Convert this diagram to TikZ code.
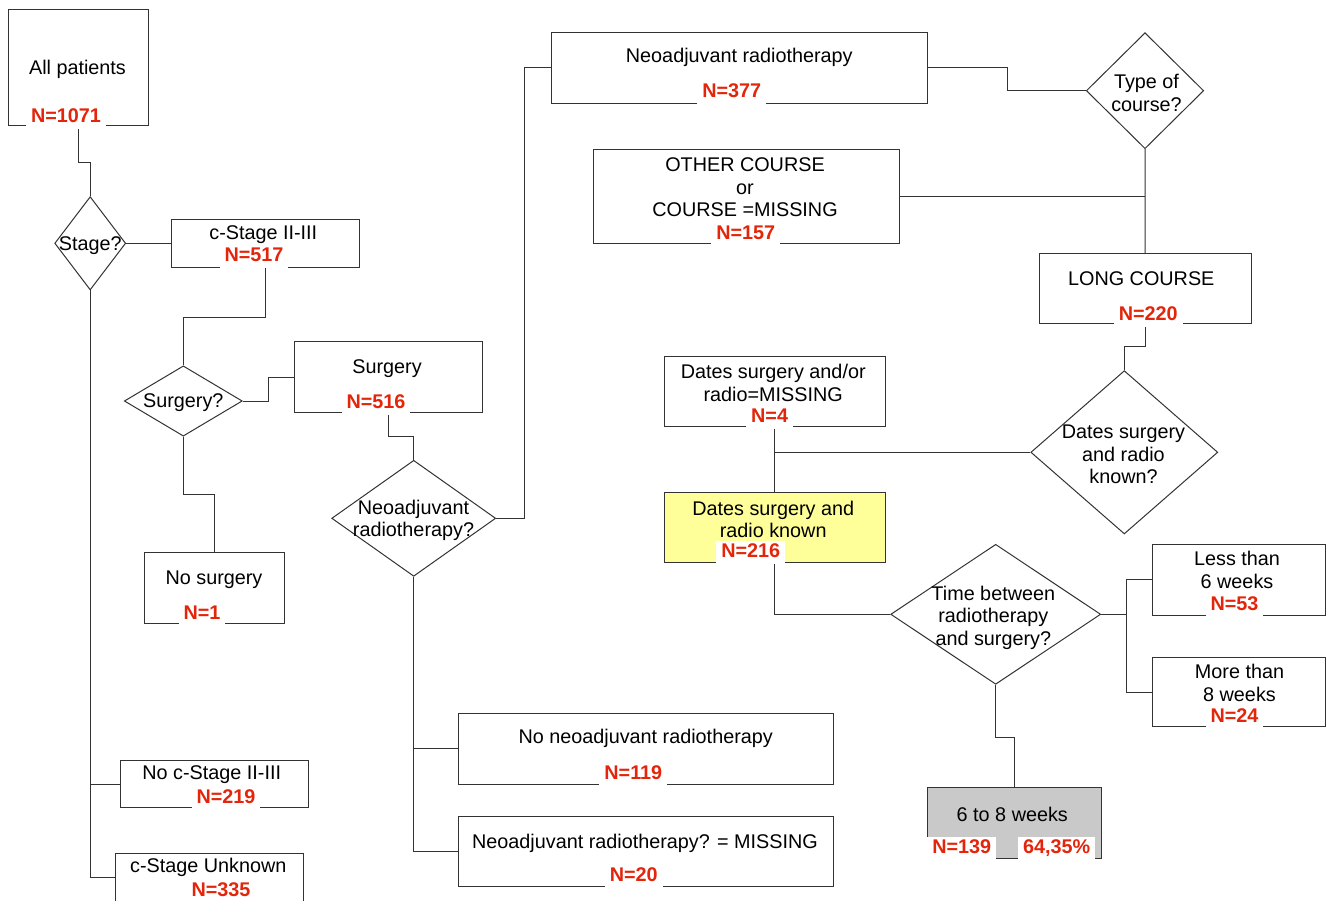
\documentclass[tikz,border=0pt]{standalone}
\usepackage{fontspec}
\setmainfont{Liberation Sans}
\usetikzlibrary{shapes.geometric,fit}
\definecolor{countred}{HTML}{E3260B}
\definecolor{keepyellow}{HTML}{FFFF99}
\definecolor{resultgray}{HTML}{C9C9C9}
\definecolor{linegray}{HTML}{333333}

\begin{document}
\begin{tikzpicture}[
      x=1pt, y=-1pt,
      line width=1pt,
      font=\fontsize{19.8}{22.5}\selectfont,
      box/.style={draw=linegray,fill=white,rectangle,inner sep=0pt},
      dec/.style={draw=linegray,fill=white,diamond,inner sep=0pt},
      txt/.style={align=center,inner sep=0pt,yshift=-2pt},
      count/.style={font=\fontsize{19.8}{22.5}\selectfont\bfseries,text=countred,fill=white,
                    inner xsep=5pt,inner ysep=2.5pt,text height=14pt,text depth=4pt,anchor=base},
      link/.style={draw=linegray}
    ]
    \useasboundingbox (0,0) rectangle (1331,900);
    % staging and surgery
    \node[box,fit={(8,9) (148,125.3)}] (all) {};
    \node[dec,minimum width=71pt,minimum height=93.3pt] (stage) at (90.2,243.3) {};
    \node[box,fit={(171,219.7) (359,267.3)}] (cst) {};
    \node[dec,minimum width=118pt,minimum height=70.3pt] (surgq) at (183.3,401) {};
    \node[box,fit={(294.3,341.7) (482,412.7)}] (surg) {};
    \node[box,fit={(144,552.7) (284.3,623.7)}] (nosurg) {};
    \node[box,fit={(120.3,760.3) (308.3,807.7)}] (nocst) {};
    \node[box,fit={(115.3,853.7) (303,901)}] (cunk) {};
    % neoadjuvant radiotherapy
    \node[dec,minimum width=164pt,minimum height=116pt] (neoq) at (413.7,518.3) {};
    \node[box,fit={(551,32.3) (927.3,103)}] (neo) {};
    \node[box,fit={(458.3,713.3) (833.3,784)}] (noneo) {};
    \node[box,fit={(458.3,816) (833.3,886.7)}] (neomis) {};
    % course, dates, interval
    \node[dec,minimum width=117.4pt,minimum height=116pt] (typeq) at (1145,90.7) {};
    \node[box,fit={(593.3,149) (899,243.3)}] (other) {};
    \node[box,fit={(1039,253.3) (1251.3,323.3)}] (long) {};
    \node[dec,minimum width=187pt,minimum height=163.3pt] (datq) at (1124.3,452.3) {};
    \node[box,fit={(664,356) (885.3,426)}] (datmis) {};
    \node[box,fill=keepyellow,fit={(664,492.3) (885.3,562.7)}] (datok) {};
    \node[dec,minimum width=210pt,minimum height=140pt] (timeq) at (995.7,614.3) {};
    \node[box,fit={(1152,544) (1325.7,615)}] (less) {};
    \node[box,fit={(1152,657.3) (1325.7,726.7)}] (more) {};
    \node[box,fill=resultgray,fit={(927.3,787.7) (1101.3,858.3)}] (weeks) {};

    \draw[link] (all.south) -- ++(0,36.4) -| (stage.north);
    \draw[link] (stage.east) -- (stage.east -| cst.west);
    \draw[link] (stage.south) |- (nocst.west);
    \draw[link] (stage.south) |- (cunk.west);
    \draw[link] (cst.south) -- ++(0,49.4) -| (surgq.north);
    \draw[link] (surgq.east) -- ++(26,0) |- (surg.west);
    \draw[link] (surgq.south) -- ++(0,58) -| (nosurg.north);
    \draw[link] (surg.south) -- ++(0,23.3) -| (neoq.north);
    \draw[link] (neoq.east) -- ++(28,0) |- (neo.west);
    \draw[link] (neoq.south) |- (noneo.west);
    \draw[link] (neoq.south) |- (neomis.west);
    \draw[link] (neo.east) -- ++(79.4,0) |- (typeq.west);
    \draw[link] (typeq.south) -- (long.north);
    \draw[link] (other.east) -- (other.east -| typeq.south);
    \draw[link] (long.south) -- ++(0,22.7) -| (datq.north);
    \draw[link] (datmis.south) -- (datok.north);
    \draw[link] (datq.west) -- (datq.west -| datmis.south);
    \draw[link] (datok.south) |- (timeq.west);
    \draw[link] (timeq.east) -- ++(25.3,0) |- (less.west);
    \draw[link] (timeq.east) -- ++(25.3,0) |- (more.west);
    \draw[link] (timeq.south) -- ++(0,52.4) -| (weeks.north);

    % texts
    \node[txt] (all-t) at (77.5,67) {All patients};
    \node[txt] (stage-t) at (stage.center) {Stage?};
    \node[txt] (cst-t) at (263.3,232.7) {c-Stage II-III};
    \node[txt] (surgq-t) at (surgq.center) {Surgery?};
    \node[txt] (surg-t) at (387,366.7) {Surgery};
    \node[txt] (nosurg-t) at (214,577.7) {No surgery};
    \node[txt] (nocst-t) at (211.7,772.3) {No c-Stage II-III};
    \node[txt] (cunk-t) at (208.3,865.7) {c-Stage Unknown};
    \node[txt] (neoq-t) at (413.5,518.5) {Neoadjuvant\\radiotherapy?};
    \node[txt] (neo-t) at (739.3,55) {Neoadjuvant radiotherapy};
    \node[txt] (noneo-t) at (645.7,736.7) {No neoadjuvant radiotherapy};
    \node[txt] (neomis-t) at (645,841.7) {Neoadjuvant radiotherapy? = MISSING};
    \node[txt] (typeq-t) at (1146.5,91) {Type of\\course?};
    \node[txt] (other-t) at (745,185.5) {OTHER COURSE\\or\\COURSE =MISSING};
    \node[txt] (long-t) at (1141.3,276.7) {LONG COURSE};
    \node[txt] (datq-t) at (1123.5,452.5) {Dates surgery\\and radio\\known?};
    \node[txt] (datmis-t) at (773.2,381) {Dates surgery and/or\\radio=MISSING};
    \node[txt] (datok-t) at (773.2,517.5) {Dates surgery and\\radio known};
    \node[txt] (timeq-t) at (993.3,615.5) {Time between\\radiotherapy\\and surgery?};
    \node[txt] (less-t) at (1237,568) {Less than\\6 weeks};
    \node[txt] (more-t) at (1239.5,681) {More than\\8 weeks};
    \node[txt] (weeks-t) at (1012.3,812.3) {6 to 8 weeks};

    % counts
    \node[count] (all-n) at (66,122) {N=1071};
    \node[count] (cst-n) at (254,261.7) {N=517};
    \node[count] (surg-n) at (376,408.3) {N=516};
    \node[count] (nosurg-n) at (202,619) {N=1};
    \node[count] (nocst-n) at (226,803.3) {N=219};
    \node[count] (cunk-n) at (221,896) {N=335};
    \node[count] (neo-n) at (731.7,97.7) {N=377};
    \node[count] (noneo-n) at (633.3,779.3) {N=119};
    \node[count] (neomis-n) at (633.8,881.7) {N=20};
    \node[count] (other-n) at (745.8,239) {N=157};
    \node[count] (long-n) at (1148.3,320) {N=220};
    \node[count] (datmis-n) at (769.6,422.3) {N=4};
    \node[count] (datok-n) at (750.8,557.3) {N=216};
    \node[count] (less-n) at (1234.5,610) {N=53};
    \node[count] (more-n) at (1234.5,722.7) {N=24};
    \node[count] (weeks-n) at (961.8,853.3) {N=139};
    \node[count] (weeks-p) at (1056.7,853.3) {64,35\%};
  \end{tikzpicture}
\end{document}
